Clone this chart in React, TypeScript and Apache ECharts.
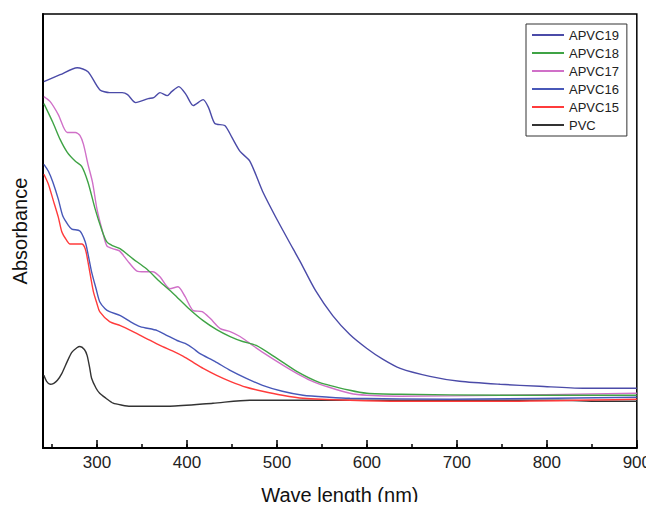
import React, { useEffect, useRef } from "react";
import * as echarts from "echarts";

// [wavelength (nm), absorbance (a.u.)]
const apvc19: [number, number][] = [
  [241, 3.68], [259, 3.75], [278, 3.82], [290, 3.78], [303, 3.6], [314, 3.57], [328, 3.57],
  [334, 3.55], [343, 3.47], [357, 3.51], [363, 3.52], [370, 3.57], [378, 3.54], [383, 3.58],
  [391, 3.63], [399, 3.55], [407, 3.44], [418, 3.5], [424, 3.42], [431, 3.26], [442, 3.24],
  [450, 3.12], [459, 2.98], [470, 2.88], [484, 2.58], [501, 2.28], [518, 2.0], [526, 1.87],
  [543, 1.58], [562, 1.33], [581, 1.14], [600, 1.0], [618, 0.89], [637, 0.8], [670, 0.72],
  [703, 0.67], [748, 0.64], [792, 0.62], [840, 0.6], [900, 0.6],
];
const apvc18: [number, number][] = [
  [241, 3.46], [251, 3.27], [259, 3.1], [267, 2.97], [276, 2.88], [283, 2.83], [290, 2.67],
  [298, 2.4], [305, 2.2], [311, 2.07], [318, 2.03], [326, 2.0], [340, 1.9], [355, 1.8],
  [370, 1.67], [385, 1.55], [401, 1.41], [418, 1.28], [433, 1.19], [448, 1.12], [462, 1.07],
  [477, 1.03], [500, 0.9], [522, 0.77], [547, 0.66], [581, 0.58], [600, 0.55], [637, 0.54],
  [748, 0.53], [900, 0.53],
];
const apvc17: [number, number][] = [
  [241, 3.53], [248, 3.48], [257, 3.35], [267, 3.17], [276, 3.17], [281, 3.14], [285, 3.05],
  [290, 2.85], [295, 2.67], [300, 2.4], [306, 2.18], [311, 2.03], [318, 2.0], [325, 1.98],
  [334, 1.88], [344, 1.78], [353, 1.77], [362, 1.77], [370, 1.72], [381, 1.6], [390, 1.62],
  [398, 1.52], [407, 1.38], [417, 1.37], [426, 1.3], [437, 1.2], [448, 1.17], [459, 1.12],
  [470, 1.05], [486, 0.95], [507, 0.83], [522, 0.75], [537, 0.68], [558, 0.61], [581, 0.55],
  [600, 0.53], [637, 0.52], [748, 0.53], [900, 0.55],
];
const apvc16: [number, number][] = [
  [241, 2.85], [246, 2.78], [251, 2.67], [257, 2.5], [262, 2.33], [268, 2.24], [272, 2.2],
  [281, 2.18], [287, 2.07], [290, 1.95], [294, 1.77], [299, 1.6], [303, 1.47], [309, 1.4],
  [314, 1.37], [326, 1.33], [337, 1.27], [348, 1.22], [367, 1.18], [378, 1.13], [389, 1.08],
  [398, 1.05], [407, 1.0], [414, 0.95], [431, 0.87], [448, 0.78], [466, 0.7], [484, 0.63],
  [506, 0.57], [529, 0.53], [558, 0.51], [581, 0.5], [692, 0.49], [900, 0.51],
];
const apvc15: [number, number][] = [
  [241, 2.75], [246, 2.65], [251, 2.5], [257, 2.32], [261, 2.17], [266, 2.09], [270, 2.05],
  [283, 2.05], [287, 2.0], [290, 1.87], [296, 1.57], [300, 1.45], [303, 1.37], [314, 1.27],
  [326, 1.23], [340, 1.17], [355, 1.1], [370, 1.03], [385, 0.97], [396, 0.92], [407, 0.86],
  [418, 0.8], [433, 0.73], [448, 0.67], [466, 0.61], [484, 0.57], [506, 0.53], [529, 0.5],
  [581, 0.48], [637, 0.47], [748, 0.47], [900, 0.49],
];
const pvc: [number, number][] = [
  [241, 0.73], [244, 0.67], [248, 0.64], [252, 0.65], [256, 0.68], [261, 0.75], [267, 0.87],
  [272, 0.96], [278, 1.01], [281, 1.02], [286, 0.99], [289, 0.93], [292, 0.8], [294, 0.7],
  [299, 0.6], [303, 0.55], [310, 0.5], [318, 0.45], [328, 0.43], [337, 0.42], [381, 0.42],
  [429, 0.45], [470, 0.48], [522, 0.48], [581, 0.48], [692, 0.48], [814, 0.48], [858, 0.47],
  [900, 0.47],
];

const seriesNames = ["APVC19", "APVC18", "APVC17", "APVC16", "APVC15", "PVC"];
const seriesData = [apvc19, apvc18, apvc17, apvc16, apvc15, pvc];
const seriesColors = ["#4b4ba8", "#3fa345", "#d070c8", "#4858b8", "#ff3b3b", "#333333"];

const FONT = "Liberation Sans, Arial, sans-serif";

export default function App() {
  const ref = useRef<HTMLDivElement>(null);
  useEffect(() => {
    if (!ref.current) return;
    const chart = echarts.init(ref.current, undefined, { renderer: "svg" });
    chart.setOption({
      animation: false,
      backgroundColor: "#ffffff",
      grid: {
        left: 43,
        right: 16,
        top: 14,
        bottom: 60,
        show: true,
        borderColor: "#000",
        borderWidth: 1.5,
      },
      legend: {
        orient: "vertical",
        left: 526,
        top: 24,
        data: seriesNames,
        icon: "rect",
        itemWidth: 32,
        itemHeight: 2,
        itemGap: 4,
        padding: [4, 8, 4, 6],
        borderColor: "#333",
        borderWidth: 1,
        textStyle: { fontFamily: FONT, fontSize: 13, lineHeight: 14, color: "#222" },
      },
      xAxis: [
        {
          type: "value",
          min: 240,
          max: 900,
          position: "bottom",
          name: "Wave length (nm)",
          nameLocation: "middle",
          nameGap: 37,
          nameTextStyle: { fontFamily: FONT, fontSize: 20, color: "#111" },
          axisLine: { show: true, lineStyle: { color: "#000", width: 2 } },
          axisTick: { show: true, inside: true, length: 8, lineStyle: { color: "#000", width: 1.5 } },
          axisLabel: {
            showMinLabel: false,
            showMaxLabel: true,
            fontFamily: FONT,
            fontSize: 17,
            color: "#222",
            margin: 6,
          },
          splitLine: { show: false },
        },
        {
          type: "value",
          min: 240,
          max: 900,
          splitNumber: 13,
          position: "bottom",
          axisLine: { show: false },
          axisTick: { show: true, inside: true, length: 4, lineStyle: { color: "#000", width: 1.5 } },
          axisLabel: { show: false },
          splitLine: { show: false },
        },
      ],
      yAxis: {
        type: "value",
        min: 0,
        max: 4.36,
        name: "Absorbance",
        nameLocation: "middle",
        nameGap: 13,
        nameTextStyle: { fontFamily: FONT, fontSize: 20, color: "#111" },
        axisLine: { show: true, lineStyle: { color: "#000", width: 2 } },
        axisTick: { show: false },
        axisLabel: { show: false },
        splitLine: { show: false },
      },
      series: seriesNames.map((name, i) => ({
        name,
        type: "line",
        xAxisIndex: 0,
        data: seriesData[i],
        showSymbol: false,
        symbol: "none",
        smooth: 0.25,
        color: seriesColors[i],
        lineStyle: { color: seriesColors[i], width: 1.4 },
        z: 10 - i,
      })),
    });
    return () => chart.dispose();
  }, []);
  return <div ref={ref} style={{ width: 654, height: 510, margin: -8 }} />;
}
